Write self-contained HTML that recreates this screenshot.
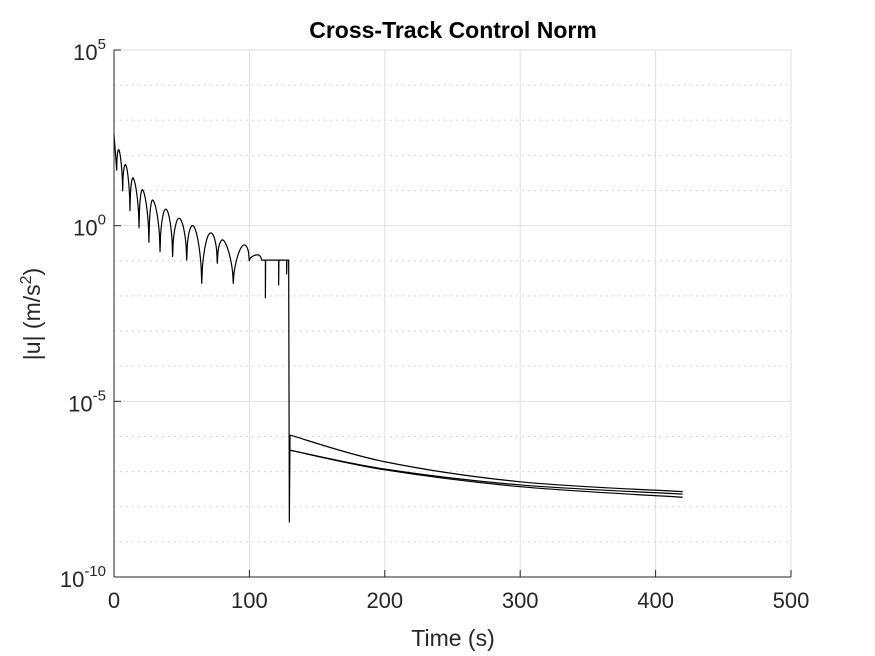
<!DOCTYPE html>
<html><head><meta charset="utf-8"><style>
body{margin:0;background:#fff;}
svg{display:block;font-family:"Liberation Sans",Arial,sans-serif;}
</style></head><body>
<svg id="chart" width="875" height="656" viewBox="0 0 875 656" xmlns="http://www.w3.org/2000/svg">
<rect width="875" height="656" fill="#fff"/>
<g id="grid"></g>
<g id="series"></g>
<g id="axes"></g>
<text x="453" y="38" text-anchor="middle" font-size="23" font-weight="bold" fill="#000">Cross-Track Control Norm</text>
<text x="453" y="646" text-anchor="middle" font-size="23" fill="#262626">Time (s)</text>
<text transform="translate(40,314) rotate(-90)" text-anchor="middle" font-size="23" fill="#262626">|u| (m/s<tspan dy="-9" font-size="16">2</tspan><tspan dy="9">)</tspan></text>
</svg>
<script>
const xTicks=[0,100,200,300,400,500];
const yTickExps=[5,0,-5,-10];
// oscillatory phase (log10 values)
const startT=0, startLog=2.6;
const troughT=[2,6.4,11.8,18.5,25.8,34,43.3,53.7,64.8,76.3,88.1,99.9,109];
const troughLog=[1.58,0.99,0.43,-0.06,-0.47,-0.74,-0.88,-0.98,-1.64,-1.07,-1.64,-1.0,-0.98];
const peakT=[3.9,8.9,14.3,21.2,28.6,38.4,48.2,59.1,70.2,81.2,94.3,105.8];
const peakLog=[2.13,1.71,1.35,1.02,0.73,0.47,0.21,-0.03,-0.24,-0.43,-0.60,-0.83];
const flatEndT=129, flatLog=-0.98;
const spikeT=[111.8,121.6,127.5];
const spikeLog=[-2.05,-1.69,-1.37];
const dropT=129.5, dropLog=-8.43;
// decay phase: three curves
const decayT=[130,200,300,420];
const decayA=[-5.96,-6.72,-7.29,-7.57];
const decayB=[-6.39,-6.93,-7.38,-7.64];
const decayC=[-6.39,-6.95,-7.43,-7.73];

const X0=114,X1=791,Y0=50,Y1=577;
const xs=t=>X0+(t-0)/(500)*(X1-X0);
const ys=l=>Y0+(5-l)/15*(Y1-Y0);
const NS="http://www.w3.org/2000/svg";
function mk(tag,attrs,parent){const e=document.createElementNS(NS,tag);for(const k in attrs)e.setAttribute(k,attrs[k]);parent.appendChild(e);return e;}
const grid=document.getElementById('grid'),axes=document.getElementById('axes'),series=document.getElementById('series');

for(let d=-10;d<=5;d++){
  const y=ys(d);
  const major=(d%5===0);
  const g=mk('line',{x1:X0,x2:X1,y1:y,y2:y,stroke:major?'#dfdfdf':'#c8c8c8','stroke-width':1,'stroke-dasharray':major?'none':'1.5,4.5'},grid);
  
  
  if(major){
    const tk=mk('line',{x1:X0,x2:X0+7,y1:y,y2:y,stroke:'#262626','stroke-width':1},axes);
    
    
  }
}
xTicks.forEach(t=>{
  const x=xs(t);
  const g=mk('line',{x1:x,x2:x,y1:Y0,y2:Y1,stroke:'#dfdfdf','stroke-width':1},grid);
  
  
  const tk=mk('line',{x1:x,x2:x,y1:Y1,y2:Y1-7,stroke:'#262626','stroke-width':1},axes);
  
  
  const lb=mk('text',{x:x,y:Y1+31,'text-anchor':'middle','font-size':22,fill:'#262626'},axes);
  lb.textContent=String(t);
  
  
});
yTickExps.forEach(e=>{
  const y=ys(e);
  const lb=mk('text',{x:X0-8,y:y+10,'text-anchor':'end','font-size':22,fill:'#262626'},axes);
  const base=document.createElementNS(NS,'tspan');base.textContent='10';lb.appendChild(base);
  const sup=document.createElementNS(NS,'tspan');sup.setAttribute('dy','-11');sup.setAttribute('font-size','15');sup.textContent=String(e);lb.appendChild(sup);
  
  
});
const bx=mk('rect',{x:X0,y:Y0,width:X1-X0,height:Y1-Y0,fill:'none',stroke:'#dfdfdf'},grid);


const xa=mk('line',{x1:X0,x2:X1,y1:Y1,y2:Y1,stroke:'#262626'},axes);


const ya=mk('line',{x1:X0,x2:X0,y1:Y0,y2:Y1,stroke:'#262626'},axes);



let pts=[[startT,startLog],[troughT[0],troughLog[0]]];
for(let i=0;i<peakT.length;i++){
  const t0=troughT[i],t1=troughT[i+1],l0=troughLog[i],l1=troughLog[i+1];
  const pt=peakT[i],pl=peakLog[i];
  const sp=(pt-t0)/(t1-t0);
  const basePeak=l0+(l1-l0)*sp;
  const N=24;
  for(let k=1;k<=N;k++){
    const s=k/N;
    const w=Math.sin(Math.PI*(s<sp? s/sp*0.5 : 0.5+(s-sp)/(1-sp)*0.5));
    const l=l0+(l1-l0)*s+(pl-basePeak)*Math.sqrt(Math.max(0,w));
    pts.push([t0+(t1-t0)*s,l]);
  }
}
spikeT.forEach((t,i)=>{pts.push([t,flatLog]);pts.push([t,spikeLog[i]]);pts.push([t+0.2,flatLog]);});
pts.push([flatEndT,flatLog]);
pts.push([dropT,dropLog]);
pts.push([decayT[0],decayA[0]]);
let d=pts.map((p,i)=>(i?'L':'M')+xs(p[0]).toFixed(2)+','+ys(p[1]).toFixed(2)).join('');
const p1=mk('path',{d:d,fill:'none',stroke:'#000','stroke-width':1.2,'stroke-linejoin':'round'},series);



function smoothPath(ts,ls){
  const P=ts.map((t,i)=>[xs(t),ys(ls[i])]);
  let s='M'+P[0][0]+','+P[0][1];
  for(let i=0;i<P.length-1;i++){
    const p0=P[Math.max(0,i-1)],p1=P[i],p2=P[i+1],p3=P[Math.min(P.length-1,i+2)];
    const c1=[p1[0]+(p2[0]-p0[0])/6,p1[1]+(p2[1]-p0[1])/6];
    const c2=[p2[0]-(p3[0]-p1[0])/6,p2[1]-(p3[1]-p1[1])/6];
    s+='C'+c1.join(',')+' '+c2.join(',')+' '+p2.join(',');
  }
  return s;
}
[[decayA,'decay-curve-a'],[decayB,'decay-curve-b'],[decayC,'decay-curve-c']].forEach(([arr,name])=>{
  const p=mk('path',{d:smoothPath(decayT,arr),fill:'none',stroke:'#000','stroke-width':1.2},series);
  
  
});
</script>
</body></html>
